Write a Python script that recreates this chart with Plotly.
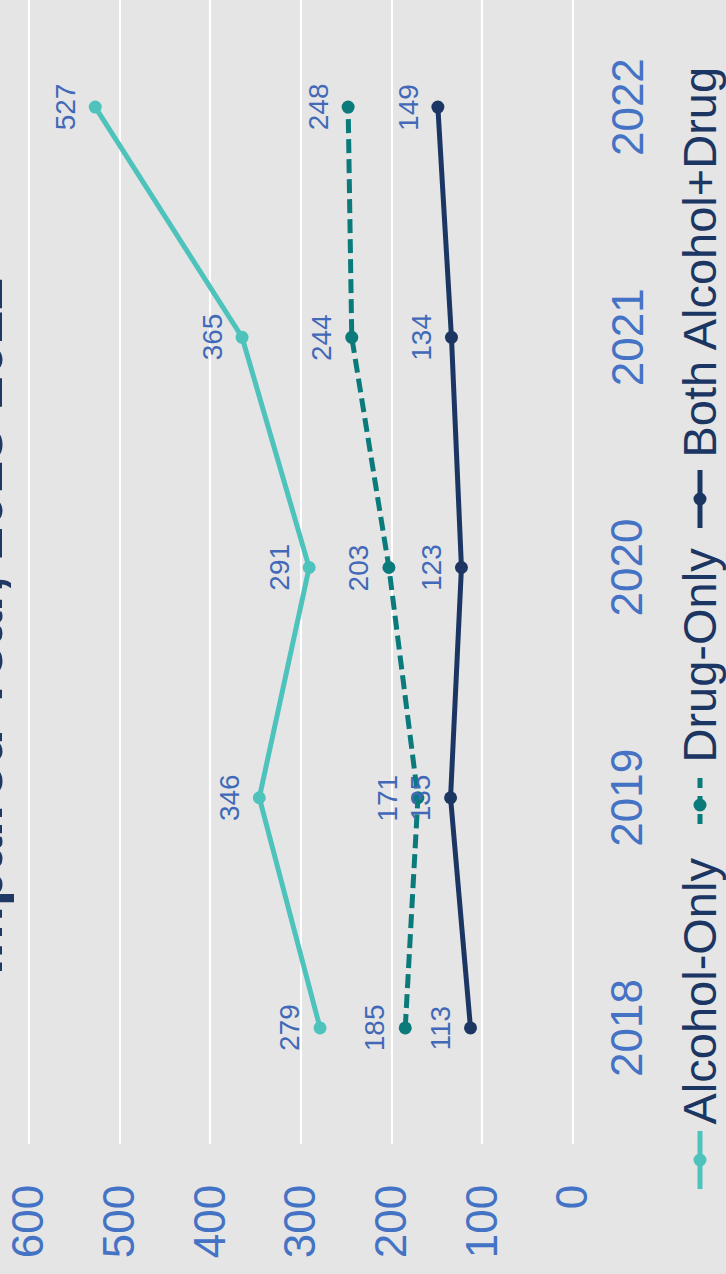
import plotly.graph_objects as go

# ---------------- data ----------------
years = [2018, 2019, 2020, 2021, 2022]
alcohol_only = [279, 346, 291, 365, 527]
drug_only = [185, 171, 203, 244, 248]
both_alcohol_drug = [113, 135, 123, 134, 149]
series_names = ["Alcohol-Only", "Drug-Only", "Both Alcohol+Drug"]
value_ticks = [0, 100, 200, 300, 400, 500, 600]
title_text = "Impaired Year, 2018-2022"

# ---------------- styles ----------------
W, H = 726, 1274
ML, MR, MT, MB = 20, 144, 0, 130
BG = "#e5e5e5"
FONT = "Liberation Sans, Arial, sans-serif"
TICK_COLOR = "#4472c4"
LABEL_COLOR = "#4169b8"
NAVY = "#1c3663"
colors = ["#4dc3bc", "#0b7a7a", "#1c3663"]
dashes = ["solid", "14px,6px", "solid"]
series = [alcohol_only, drug_only, both_alcohol_drug]

PW = W - ML - MR
PH = H - MT - MB


def px_x(px):
    return (px - ML) / PW


def px_y(py):
    return (H - MB - py) / PH


fig = go.Figure()

for name, vals, col, dash in zip(series_names, series, colors, dashes):
    fig.add_trace(go.Scatter(
        x=vals, y=years, name=name, mode="lines+markers",
        line=dict(color=col, width=5, dash=dash),
        marker=dict(color=col, size=13),
        showlegend=False, hoverinfo="skip",
    ))

annotations = []
# data labels
for vals in series:
    for yr, v in zip(years, vals):
        annotations.append(dict(
            x=v, y=yr, xref="x", yref="y", text=str(v), showarrow=False,
            textangle=-90, xshift=-30, font=dict(family=FONT, size=28, color=LABEL_COLOR),
        ))

# year labels (category axis labels, rotated)
for yr in years:
    annotations.append(dict(
        x=px_x(627), y=yr, xref="paper", yref="y", text=str(yr), showarrow=False,
        textangle=-90, xanchor="center", yanchor="middle",
        font=dict(family=FONT, size=44, color=TICK_COLOR),
    ))

# title (mostly cut off at the left edge)
annotations.append(dict(
    x=px_x(17), y=px_y(626), xref="paper", yref="paper", xanchor="right", yanchor="middle",
    text="<b>" + title_text + "</b>", showarrow=False, textangle=-90,
    font=dict(family=FONT, size=59, color="#1f3864"),
))

# custom rotated legend
legend_sym = [(1131, 1189), (778, 832), (470, 528)]
legend_txt_start = [1127, 765, 460]
shapes = []
LX = 700
for name, col, dash, (a, b), ts in zip(series_names, colors, dashes, legend_sym, legend_txt_start):
    shapes.append(dict(type="line", xref="paper", yref="paper",
                       x0=px_x(LX), x1=px_x(LX), y0=px_y(a), y1=px_y(b),
                       line=dict(color=col, width=5, dash="solid" if dash == "solid" else "10px,8px")))
    m = (a + b) / 2
    r = 6.5
    shapes.append(dict(type="circle", xref="paper", yref="paper",
                       x0=px_x(LX - r), x1=px_x(LX + r), y0=px_y(m + r), y1=px_y(m - r),
                       fillcolor=col, line=dict(color=col, width=0)))
    annotations.append(dict(
        x=px_x(699), y=px_y(ts), xref="paper", yref="paper", xanchor="center", yanchor="bottom",
        text=name, showarrow=False, textangle=-90,
        font=dict(family=FONT, size=47, color=NAVY),
    ))

fig.update_layout(
    width=W, height=H,
    margin=dict(l=ML, r=MR, t=MT, b=MB, pad=0),
    paper_bgcolor=BG, plot_bgcolor=BG,
    showlegend=False,
    annotations=annotations,
    shapes=shapes,
    xaxis=dict(range=[610, -10], tickvals=value_ticks, ticktext=[str(v) for v in value_ticks],
               tickangle=-90, side="bottom", showgrid=True, gridcolor="white", gridwidth=1.5,
               zeroline=False, showline=False, ticks="", ticklabelstandoff=31,
               tickfont=dict(family=FONT, size=44, color=TICK_COLOR)),
    yaxis=dict(range=[2017.496, 2022.465], tickvals=years, showticklabels=False,
               side="right", showgrid=False, zeroline=False, showline=False, ticks=""),
)

fig.write_html("out.html")
